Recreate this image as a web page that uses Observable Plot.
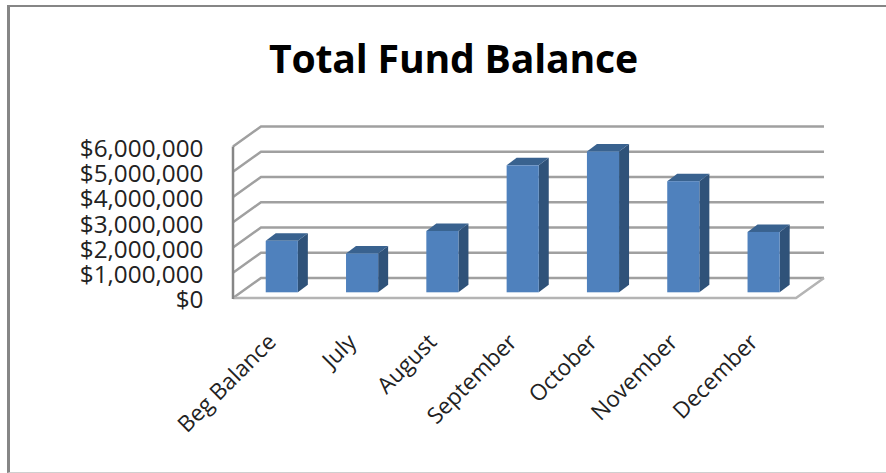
<!DOCTYPE html>
<html><head><meta charset="utf-8">
<script src="https://cdn.jsdelivr.net/npm/d3@7"></script>
<script src="https://cdn.jsdelivr.net/npm/@observablehq/plot@0.6"></script>
<style>
html,body{margin:0;padding:0;background:#fff;overflow:hidden}
#frame{position:absolute;left:7px;top:5px;width:879px;height:468px;border-left:3px solid #868686;border-top:2px solid #868686;border-bottom:1px solid #cfcfcf;box-sizing:border-box}
figure{margin:0!important;position:absolute;left:0;top:0;width:886px}
h2{margin:0;height:113px;box-sizing:border-box;padding-top:36px;padding-left:269px;font:700 39.2px/44px "Open Sans",sans-serif;letter-spacing:-0.2px;color:#000;white-space:nowrap}
svg{display:block}
</style></head><body>
<div id="frame"></div>
<div id="chart"></div>
<script>
const categories = ["Beg Balance","July","August","September","October","November","December"];
const balances = [2040000,1540000,2430000,5030000,5580000,4400000,2390000];
const yTicks = [0,1000000,2000000,3000000,4000000,5000000,6000000];
const fundTitle = "Total Fund Balance";

const rows = categories.map((c,i)=>({month:c,balance:balances[i]}));
const fmt = d3.format("$,.0f");
const svgNS = "http://www.w3.org/2000/svg";
const top0 = 113;
// 3-D projection offsets, in pixels
const wallDX = 28, wallDY = -20, barDX = 10, barDY = -7.5, barLift = -5.7;
const gridColor = "#a0a0a0", axisColor = "#868686";

function el(name, attrs){
  const e = document.createElementNS(svgNS,name);
  for (const k in attrs) e.setAttribute(k,attrs[k]);
  return e;
}
// grid: each tick runs from the front wall edge, back along the side wall and across the back wall
function gridRender(index,scales,values,dims){
  const g = el("g",{fill:"none"});
  const xL = dims.marginLeft, xR = dims.width-dims.marginRight;
  for (const i of index){
    const y = scales.y(yTicks[i]);
    g.appendChild(el("polyline",{points:`${xL},${y} ${xL+wallDX},${y+wallDY} ${xR+wallDX},${y+wallDY}`,stroke:gridColor,"stroke-width":2.5}));
  }
  const y0 = scales.y(0), y6 = scales.y(yTicks[yTicks.length-1]);
  g.appendChild(el("polyline",{points:`${xL},${y0} ${xR},${y0} ${xR+wallDX},${y0+wallDY}`,stroke:"#b4b4b4","stroke-width":2.5}));
  g.appendChild(el("line",{x1:xL,x2:xL,y1:y0+1,y2:y6,stroke:axisColor,"stroke-width":2.5}));
  return g;
}
// bar: the front face is the library's own bar; side and top faces are offset from it
function barRender(index,scales,values,dims,ctx,next){
  const g = next(index,scales,values,dims,ctx);
  for (const rect of Array.from(g.querySelectorAll("rect"))){
    const x0 = +rect.getAttribute("x"), w = +rect.getAttribute("width");
    const yT = +rect.getAttribute("y"), yB = yT + +rect.getAttribute("height");
    const x1 = x0+w;
    const side = el("polygon",{points:`${x1},${yT} ${x1+barDX},${yT+barDY} ${x1+barDX},${yB+barDY} ${x1},${yB}`,fill:"#2f5279"});
    const top = el("polygon",{points:`${x0},${yT} ${x0+barDX},${yT+barDY} ${x1+barDX},${yT+barDY} ${x1},${yT}`,fill:"#39628f"});
    rect.parentNode.insertBefore(side,rect);
    rect.parentNode.insertBefore(top,rect);
  }
  return g;
}

const plot = Plot.plot({
  title: fundTitle,
  width: 886, height: 473-top0,
  marginLeft: 233, marginRight: 90, marginTop: 146.5-top0, marginBottom: 473-298,
  style:{background:"transparent",overflow:"visible"},
  x:{type:"band",domain:categories,round:false,paddingInner:0.6,paddingOuter:0.3055,align:0.667,label:null},
  y:{domain:[0,6000000],label:null},
  marks:[
    Plot.ruleY(yTicks,{render:gridRender}),
    Plot.barY(rows,{x:"month",y:"balance",fill:"#4f81bd",dy:barLift,render:barRender}),
    Plot.axisY({ticks:yTicks,tickFormat:fmt,tickSize:0,tickPadding:0,dx:-30,dy:2,fontSize:24.3,fontFamily:"Open Sans, sans-serif",fill:"#222",label:null}),
    Plot.axisX({tickSize:0,tickRotate:-45,fontSize:22.5,fontFamily:"Open Sans, sans-serif",fill:"#222",label:null,textAnchor:"end",dx:-10,dy:28})
  ]
});
document.getElementById("chart").appendChild(plot);
</script>
</body></html>
